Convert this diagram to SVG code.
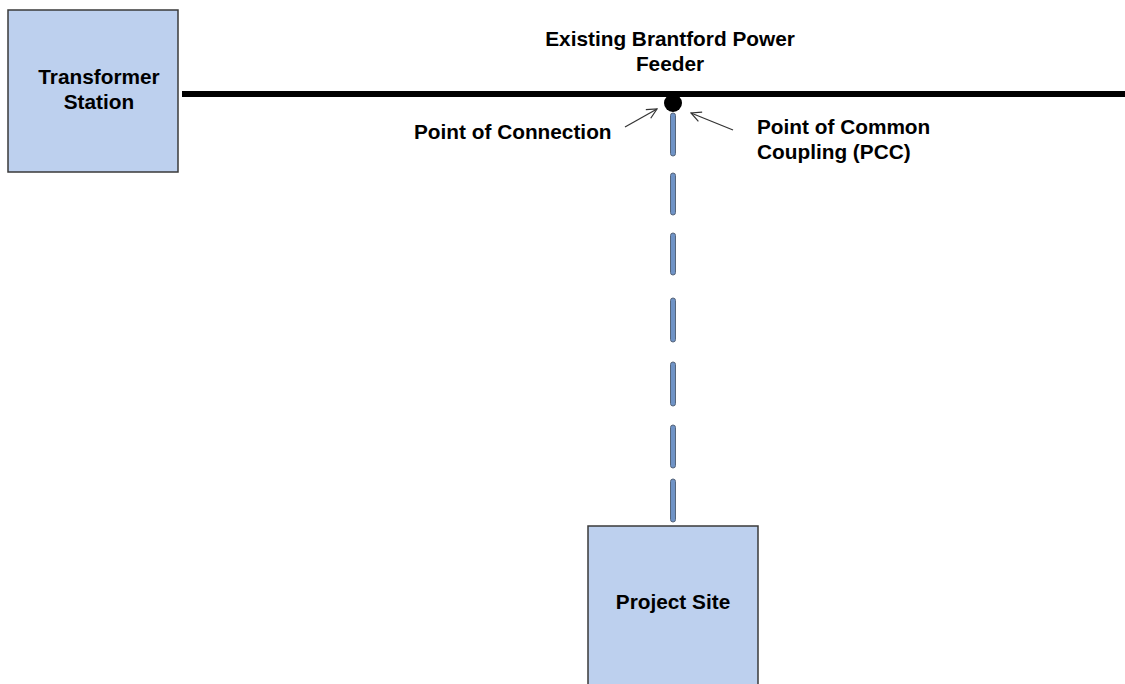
<svg xmlns="http://www.w3.org/2000/svg" width="1125" height="684" viewBox="0 0 1125 684">
  <defs>
    <style>
      .box { fill: #bdd0ee; stroke: #3a3a3a; stroke-width: 1.5; }
      .lbl { font-family: "Liberation Sans", Arial, sans-serif; font-weight: bold; font-size: 20.8px; fill: #000; }
      .mid { text-anchor: middle; }
      .dash { fill: #6f93c6; stroke: #56657a; stroke-width: 1; }
      .ptr { stroke: #333; stroke-width: 1.2; fill: none; }
    </style>
    <marker id="openHead" viewBox="0 0 12 12" refX="11" refY="6" markerWidth="12" markerHeight="12" markerUnits="userSpaceOnUse" orient="auto">
      <path d="M1,1 L11,6 L1,11" fill="none" stroke="#333" stroke-width="1.2"/>
    </marker>
  </defs>

  <rect width="1125" height="684" fill="#fff"/>

  <g id="transformer-station">
    <rect class="box" x="8" y="10" width="170" height="162"/>
    <text class="lbl mid" x="99" y="84">Transformer</text>
    <text class="lbl mid" x="99" y="109">Station</text>
  </g>

  <g id="project-site">
    <rect class="box" x="588" y="526" width="170" height="170"/>
    <text class="lbl mid" x="673" y="609">Project Site</text>
  </g>

  <g id="connectors">
    <!-- feeder -->
    <line x1="182" y1="94" x2="1125" y2="94" stroke="#000" stroke-width="6"/>
    <!-- connection point -->
    <circle cx="673" cy="103" r="9" fill="#000"/>
    <!-- dashed tap line -->
    <rect class="dash" x="670.5" y="113" width="5" height="43" rx="2.5"/>
    <rect class="dash" x="670.5" y="173" width="5" height="42" rx="2.5"/>
    <rect class="dash" x="670.5" y="233" width="5" height="42" rx="2.5"/>
    <rect class="dash" x="670.5" y="298" width="5" height="44" rx="2.5"/>
    <rect class="dash" x="670.5" y="362" width="5" height="44" rx="2.5"/>
    <rect class="dash" x="670.5" y="425" width="5" height="43" rx="2.5"/>
    <rect class="dash" x="670.5" y="479" width="5" height="43" rx="2.5"/>
    <!-- pointers -->
    <line class="ptr" x1="625" y1="127" x2="657" y2="109" marker-end="url(#openHead)"/>
    <line class="ptr" x1="733" y1="130" x2="691" y2="113" marker-end="url(#openHead)"/>
  </g>

  <g id="labels">
    <text class="lbl mid" x="670" y="46">Existing Brantford Power</text>
    <text class="lbl mid" x="670" y="71">Feeder</text>
    <text class="lbl" x="414" y="139">Point of Connection</text>
    <text class="lbl" x="757" y="134">Point of Common</text>
    <text class="lbl" x="757" y="159">Coupling (PCC)</text>
  </g>
</svg>
